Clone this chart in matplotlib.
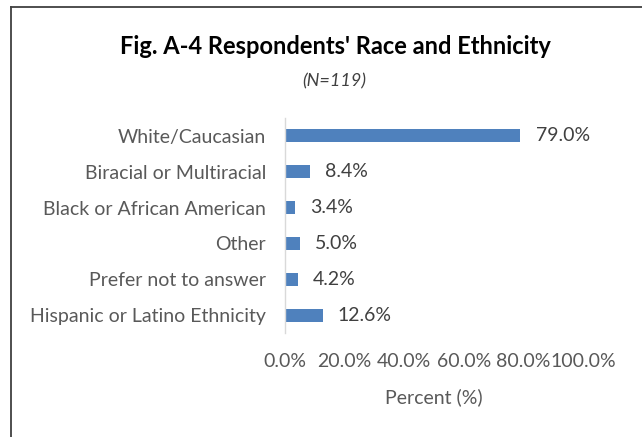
import matplotlib
matplotlib.use("Agg")
import matplotlib.pyplot as plt
from matplotlib.lines import Line2D

categories = ["White/Caucasian", "Biracial or Multiracial", "Black or African American",
              "Other", "Prefer not to answer", "Hispanic or Latino Ethnicity"]
values = [79.0, 8.4, 3.4, 5.0, 4.2, 12.6]
xticks = [0, 20, 40, 60, 80, 100]
xtick_labels = ["0.0%", "20.0%", "40.0%", "60.0%", "80.0%", "100.0%"]
title = "Fig. A-4 Respondents' Race and Ethnicity"
subtitle = "(N=119)"
xlabel = "Percent (%)"

plt.rcParams['font.family'] = ['Lato', 'DejaVu Sans']

W, H = 642, 437
fig = plt.figure(figsize=(W / 100, H / 100), dpi=100)

# chart border (only top and left visible in the reference)
fig.add_artist(Line2D([11 / W, 11 / W], [0, 1 - 7 / H], color='#404040', lw=1.3, transform=fig.transFigure))
fig.add_artist(Line2D([11 / W, 1], [1 - 7 / H, 1 - 7 / H], color='#404040', lw=1.3, transform=fig.transFigure))

ax = fig.add_axes([285 / W, 1 - 333 / H, (583 - 285) / W, (333 - 118) / H])
ypos = list(range(len(categories)))
ax.barh(ypos, values, height=0.36, color='#4f81bd')
ax.set_ylim(len(categories) - 0.5, -0.5)
ax.set_xlim(0, 100)

for yy, v in zip(ypos, values):
    ax.annotate(f"{v:.1f}%", xy=(v, yy), xytext=(11, 0), textcoords='offset points',
                ha='left', va='center', fontsize=14, color='#404040')

ax.set_yticks(ypos)
ax.set_yticklabels(categories, fontsize=14, color='#595959')
ax.set_xticks(xticks)
ax.set_xticklabels(xtick_labels, fontsize=14, color='#595959')
ax.tick_params(axis='both', length=0)
ax.tick_params(axis='y', pad=13.5)
ax.tick_params(axis='x', pad=14.5)
ax.set_xlabel(xlabel, fontsize=14, color='#595959', labelpad=13)

for s in ['top', 'right', 'bottom']:
    ax.spines[s].set_visible(False)
ax.spines['left'].set_color('#d9d9d9')
ax.spines['left'].set_linewidth(1.0)

fig.text(335 / W, 1 - 47 / H, title, ha='center', va='center', fontsize=17, fontweight='bold', color='black')
fig.text(334 / W, 1 - 81 / H, subtitle, ha='center', va='center', fontsize=13, fontstyle='italic', color='#404040')

fig.savefig("out.png", dpi=100)
